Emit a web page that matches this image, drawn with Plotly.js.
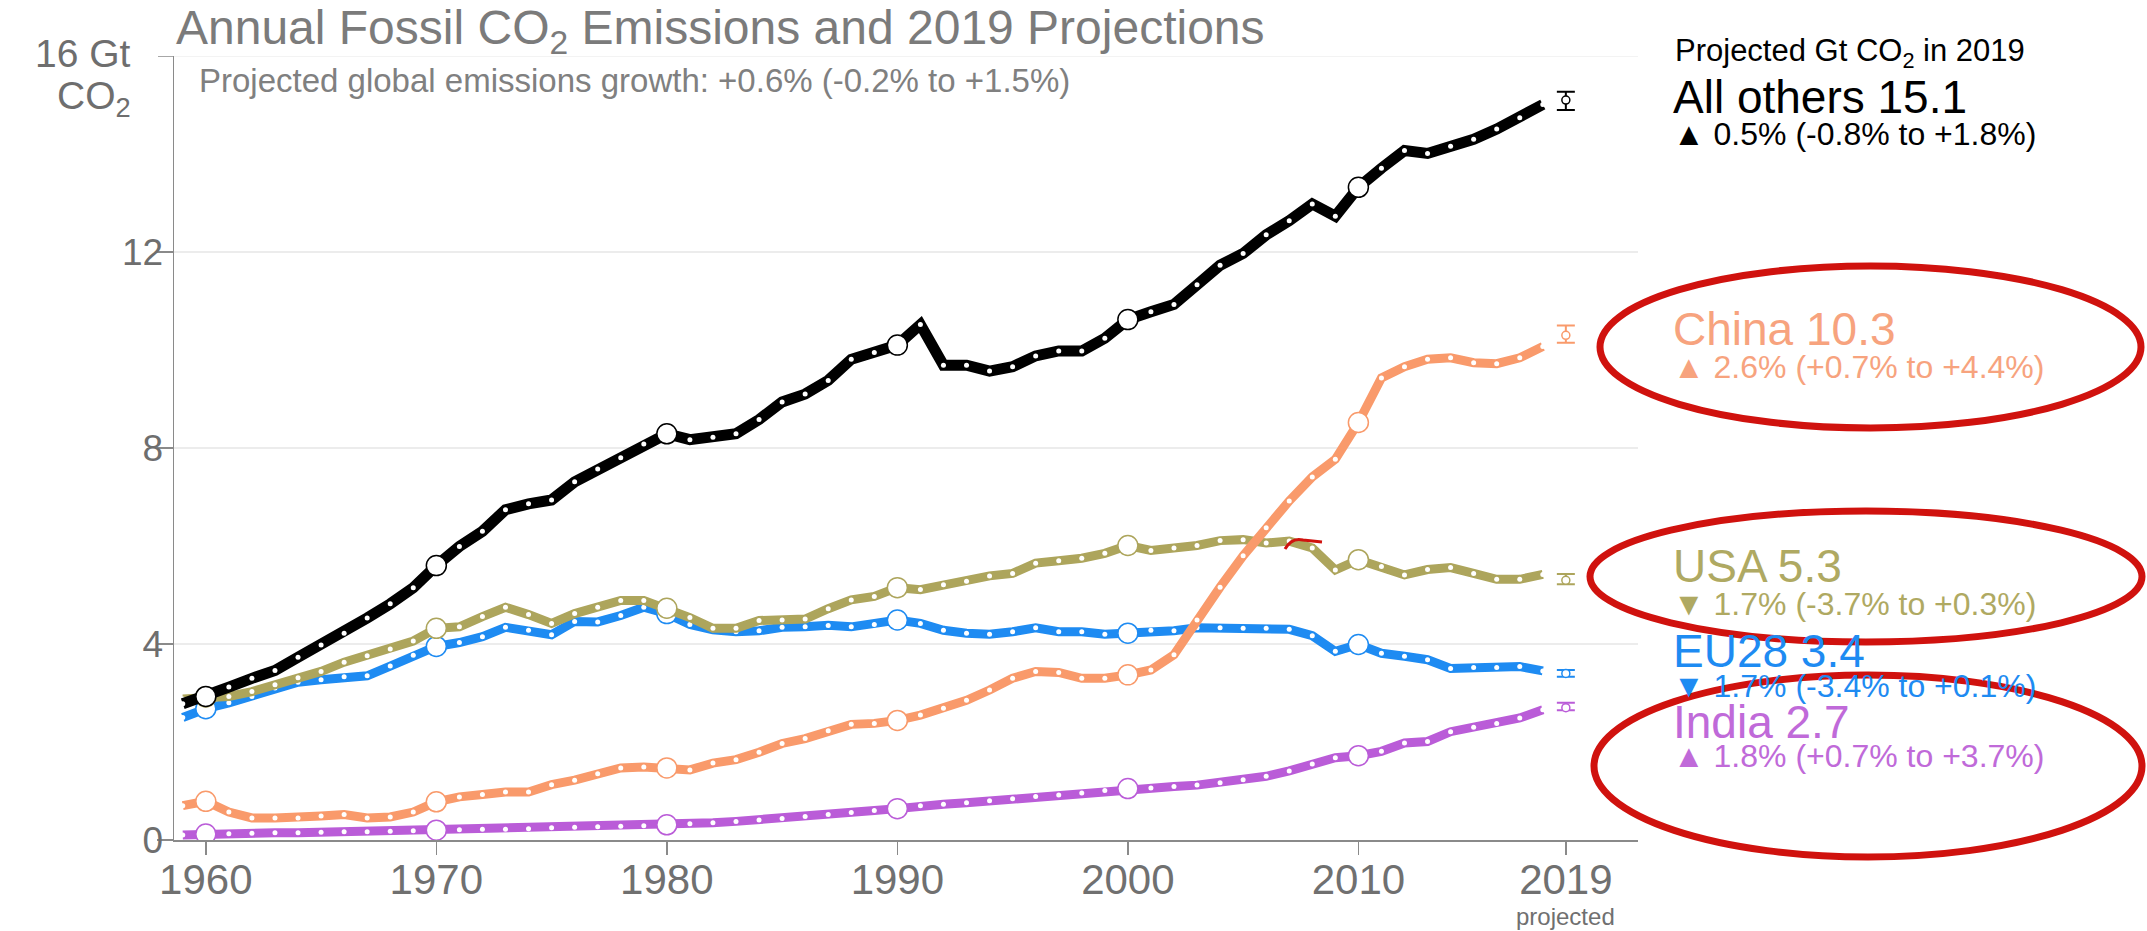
<!DOCTYPE html>
<html>
<head>
<meta charset="utf-8">
<script src="https://cdn.plot.ly/plotly-3.0.1.min.js"></script>
<style>
html,body{margin:0;padding:0;background:#ffffff;}
#chart{width:2147px;height:931px;}
</style>
</head>
<body>
<div id="chart"></div>
<script>
// ---------------- DATA ----------------
const years = [1959,1960,1961,1962,1963,1964,1965,1966,1967,1968,1969,
  1970,1971,1972,1973,1974,1975,1976,1977,1978,1979,
  1980,1981,1982,1983,1984,1985,1986,1987,1988,1989,
  1990,1991,1992,1993,1994,1995,1996,1997,1998,1999,
  2000,2001,2002,2003,2004,2005,2006,2007,2008,2009,
  2010,2011,2012,2013,2014,2015,2016,2017,2018];

const allOthers = [2.78,2.93,3.12,3.30,3.46,3.73,3.98,4.22,4.53,4.82,5.15,
  5.60,5.99,6.30,6.74,6.86,6.94,7.31,7.57,7.80,8.08,
  8.29,8.17,8.22,8.29,8.58,8.94,9.10,9.38,9.81,9.95,
  10.10,10.52,9.69,9.69,9.57,9.66,9.88,9.98,9.98,10.24,
  10.62,10.78,10.93,11.33,11.73,11.97,12.35,12.64,12.98,12.73,
  13.32,13.71,14.07,14.01,14.16,14.30,14.51,14.74,15.01];

const china = [0.70,0.79,0.57,0.45,0.45,0.45,0.49,0.52,0.45,0.47,0.57,
  0.78,0.88,0.93,0.98,0.98,1.13,1.22,1.35,1.47,1.49,
  1.47,1.43,1.57,1.64,1.79,1.97,2.07,2.23,2.36,2.38,
  2.44,2.55,2.69,2.85,3.06,3.30,3.44,3.42,3.30,3.30,
  3.37,3.47,3.78,4.49,5.16,5.80,6.37,6.92,7.41,7.77,
  8.52,9.43,9.66,9.81,9.84,9.74,9.72,9.84,10.07];

const usa = [2.88,2.92,2.93,3.03,3.17,3.31,3.44,3.63,3.76,3.90,4.06,
  4.32,4.35,4.56,4.75,4.60,4.42,4.62,4.75,4.89,4.89,
  4.73,4.54,4.32,4.32,4.48,4.49,4.51,4.72,4.90,4.97,
  5.15,5.11,5.21,5.28,5.39,5.44,5.65,5.70,5.75,5.85,
  6.01,5.91,5.96,6.01,6.11,6.13,6.06,6.10,5.96,5.51,
  5.72,5.58,5.41,5.52,5.56,5.44,5.32,5.32,5.42];

const eu28 = [2.50,2.68,2.80,2.93,3.10,3.22,3.27,3.33,3.35,3.55,3.77,
  3.95,4.03,4.15,4.34,4.28,4.19,4.46,4.45,4.58,4.75,
  4.62,4.40,4.29,4.25,4.27,4.34,4.35,4.38,4.35,4.40,
  4.49,4.42,4.28,4.22,4.20,4.25,4.33,4.25,4.25,4.20,
  4.22,4.28,4.27,4.33,4.33,4.32,4.32,4.30,4.17,3.85,
  3.99,3.81,3.75,3.68,3.50,3.52,3.52,3.54,3.45];

const india = [0.10,0.12,0.13,0.14,0.15,0.15,0.16,0.17,0.17,0.18,0.19,
  0.20,0.21,0.22,0.22,0.23,0.25,0.26,0.27,0.28,0.29,
  0.31,0.33,0.35,0.38,0.41,0.44,0.48,0.52,0.56,0.60,
  0.64,0.70,0.73,0.76,0.80,0.84,0.89,0.92,0.96,1.01,
  1.05,1.06,1.09,1.12,1.17,1.23,1.30,1.41,1.55,1.68,
  1.72,1.81,1.98,2.01,2.21,2.30,2.38,2.49,2.66];

const projYear = 2019;
const seriesNames = ['All others','China','USA','EU28','India'];
const projValues  = [15.1, 10.3, 5.3, 3.4, 2.7];
const projLow     = [14.90, 10.15, 5.22, 3.33, 2.65];
const projHigh    = [15.27, 10.50, 5.43, 3.47, 2.80];
const growthPct   = ['0.5%','2.6%','1.7%','1.7%','1.8%'];
const growthRange = ['(-0.8% to +1.8%)','(+0.7% to +4.4%)','(-3.7% to +0.3%)','(-3.4% to +0.1%)','(+0.7% to +3.7%)'];
const growthDir   = ['up','up','down','down','up'];

const xTickVals = [1960,1970,1980,1990,2000,2010,2019];
const xTickText = ['1960','1970','1980','1990','2000','2010','2019'];
const yTickVals = [0,4,8,12];
const yTickText = ['0','4','8','12'];
const yTopValue = 16;
const yTopLabel = '16 Gt';
const yUnitLabel = 'CO<sub>2</sub>';

// ---------------- STYLE ----------------
const FONT = 'Liberation Sans, Arial, Helvetica, sans-serif';
const seriesValues = [allOthers, china, usa, eu28, india];
const lineColors = ['#000000','#F99A6B','#ADA55C','#1E8BF2','#BA5CD8'];
const textColors = ['#000000','#F7A37E','#AFA962','#1E8BF2','#C06AD9'];
const lineWidths = [11, 9, 9, 9, 9];
const drawOrder = [3, 2, 4, 1, 0]; // EU, USA, India, China, All others (top)
const AXIS = '#8a8a8a';

const traces = [];
drawOrder.forEach(i => {
  const vals = seriesValues[i];
  const col = lineColors[i];
  traces.push({
    type:'scatter', mode:'lines+markers', x: years, y: vals,
    line:{color: col, width: lineWidths[i]},
    marker:{color:'#ffffff', size:5, line:{width:0}},
    hoverinfo:'skip'
  });
  const dx = [], dy = [];
  years.forEach((yr, k) => { if (yr % 10 === 0) { dx.push(yr); dy.push(vals[k]); } });
  traces.push({
    type:'scatter', mode:'markers', x: dx, y: dy,
    marker:{color:'#ffffff', size:20, line:{color: col, width:1.5}},
    hoverinfo:'skip'
  });
  traces.push({
    type:'scatter', mode:'markers', x:[projYear], y:[projValues[i]],
    marker:{color:'#ffffff', size:8, line:{color: col, width:1.5}},
    error_y:{type:'data', symmetric:false,
      array:[projHigh[i]-projValues[i]], arrayminus:[projValues[i]-projLow[i]],
      color: col, thickness:2, width:9},
    hoverinfo:'skip'
  });
});

// ---------------- ANNOTATIONS ----------------
const PX0 = 174, PW = 1464, PY0 = 840, PH = 784;
const px2x = p => (p - PX0) / PW;
const px2y = p => (PY0 - p) / PH;

const annotations = [];
annotations.push({xref:'paper', yref:'paper', x: px2x(197), y: px2y(80), xanchor:'left', yanchor:'middle',
  text:'Projected global emissions growth: +0.6% (-0.2% to +1.5%)', showarrow:false,
  font:{family:FONT, size:33, color:'#808080'}});
annotations.push({xref:'paper', yref:'y', x: px2x(133), y: yTopValue, yshift:3, xanchor:'right', yanchor:'middle',
  text: yTopLabel, showarrow:false, font:{family:FONT, size:39, color:'#6e6e6e'}});
annotations.push({xref:'paper', yref:'paper', x: px2x(133), y: px2y(99), xanchor:'right', yanchor:'middle',
  text: yUnitLabel, showarrow:false, font:{family:FONT, size:39, color:'#6e6e6e'}});
annotations.push({xref:'x', yref:'paper', x: projYear, y: px2y(916), xanchor:'center', yanchor:'middle',
  text:'projected', showarrow:false, font:{family:FONT, size:24, color:'#707070'}});
annotations.push({xref:'paper', yref:'paper', x: px2x(1673), y: px2y(53), xanchor:'left', yanchor:'middle',
  text:'Projected Gt CO<sub>2</sub> in 2019', showarrow:false, font:{family:FONT, size:31, color:'#000000'}});

const bigY = [97, 328.5, 565.5, 651, 722];
const smallY = [134, 366.5, 603.5, 686, 756];
for (let i = 0; i < seriesNames.length; i++) {
  annotations.push({xref:'paper', yref:'paper', x: px2x(1671), y: px2y(bigY[i]), xanchor:'left', yanchor:'middle',
    text: seriesNames[i] + ' ' + projValues[i].toFixed(1), showarrow:false,
    font:{family:FONT, size:46, color:textColors[i]}});
  annotations.push({xref:'paper', yref:'paper', x: px2x(1671), y: px2y(smallY[i]), xanchor:'left', yanchor:'middle',
    text: (growthDir[i]==='up' ? '▲' : '▼') + ' ' + growthPct[i] + ' ' + growthRange[i], showarrow:false,
    font:{family:FONT, size:32, color:textColors[i]}});
}

// ---------------- SHAPES ----------------
const RED = '#D0120E';
const shapes = [
  // top tick mark and faint grid line at 16
  {type:'line', xref:'paper', yref:'y', x0:-16/PW, x1:0, y0:yTopValue, y1:yTopValue, line:{color:AXIS, width:1.5}, layer:'above'},
  {type:'line', xref:'paper', yref:'y', x0:0, x1:1, y0:yTopValue, y1:yTopValue, line:{color:'#efefef', width:1.5}, layer:'below'},
  // red hand-drawn highlights
  {type:'circle', xref:'paper', yref:'paper', x0:px2x(1600), x1:px2x(2141), y0:px2y(428), y1:px2y(266), line:{color:RED, width:7}, layer:'above'},
  {type:'circle', xref:'paper', yref:'paper', x0:px2x(1590), x1:px2x(2142), y0:px2y(642), y1:px2y(511), line:{color:RED, width:7}, layer:'above'},
  {type:'circle', xref:'paper', yref:'paper', x0:px2x(1594), x1:px2x(2142), y0:px2y(857), y1:px2y(675), line:{color:RED, width:7}, layer:'above'},
  {type:'path', xref:'paper', yref:'paper',
    path:`M ${px2x(1285)} ${px2y(549)} Q ${px2x(1292)} ${px2y(537)} ${px2x(1303)} ${px2y(540)} L ${px2x(1322)} ${px2y(542)}`,
    line:{color:RED, width:3}, layer:'above'}
];

const layout = {
  width:2147, height:931,
  margin:{l:PX0, r:2147-1638, t:56, b:931-840, pad:0},
  paper_bgcolor:'#ffffff', plot_bgcolor:'#ffffff',
  showlegend:false,
  title:{text:'Annual Fossil CO<sub>2</sub> Emissions and 2019 Projections',
    font:{family:FONT, size:48, color:'#7b7b7b'},
    x:176/2147, xanchor:'left', xref:'container', y:1-27/931, yanchor:'middle', yref:'container'},
  xaxis:{range:[1958.62, 2022.13], tickmode:'array', tickvals:xTickVals, ticktext:xTickText,
    ticks:'outside', ticklen:13, tickwidth:1.5, tickcolor:AXIS,
    showline:true, linecolor:AXIS, linewidth:1.5, showgrid:false, zeroline:false,
    tickfont:{family:FONT, size:42, color:'#707070'}, ticklabelstandoff:-11, fixedrange:true},
  yaxis:{range:[0,16], tickmode:'array', tickvals:yTickVals, ticktext:yTickText,
    ticks:'outside', ticklen:16, tickwidth:1.5, tickcolor:AXIS,
    showline:true, linecolor:AXIS, linewidth:1.5,
    showgrid:true, gridcolor:'#ececec', gridwidth:1.5, zeroline:false,
    tickfont:{family:FONT, size:37, color:'#6e6e6e'}, ticklabelstandoff:-14, fixedrange:true},
  annotations: annotations,
  shapes: shapes
};

Plotly.newPlot('chart', traces, layout, {displayModeBar:false, staticPlot:true});
</script>
</body>
</html>
